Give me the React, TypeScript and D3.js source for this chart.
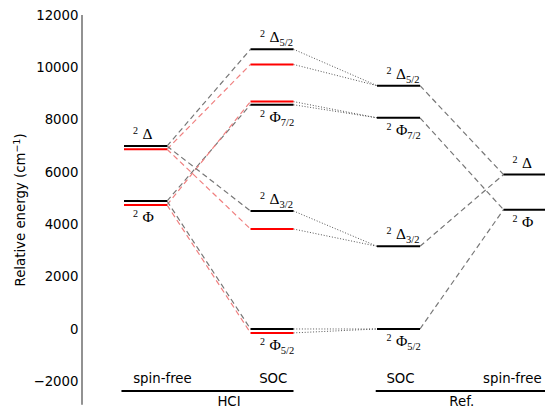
import React from "react";
import * as d3 from "d3";

// ---- data (cm^-1) ----
const sfSymbols = ["Δ", "Φ"];
const hciSfBlack = [6990, 4890];
const hciSfRed = [6870, 4740];

const socSymbols = ["Δ", "Φ", "Δ", "Φ"];
const socSubs = ["5/2", "7/2", "3/2", "5/2"];
const socParent = [0, 1, 0, 1];
const hciSocBlack = [10690, 8570, 4510, 0];
const hciSocRed = [10110, 8690, 3820, -150];
const refSoc = [9300, 8070, 3160, 0];
const refSf = [5900, 4560];

const yTicks = [-2000, 0, 2000, 4000, 6000, 8000, 10000, 12000];
const columnLabels = ["spin-free", "SOC", "SOC", "spin-free"];
const columnLabelPos = [0.134, 1.01, 2.016, 2.9];
const groupLabels = ["HCI", "Ref."];
const groupLabelPos = [0.66, 2.5];
const groupSpans = [[-0.19, 1.17], [1.82, 3.18]];

const W = 545;
const H = 408;

function Label({ x, y, sym, sub }: { x: number; y: number; sym: string; sub?: string }) {
  return (
    <text x={x} y={y} fontFamily="'Liberation Serif', serif" fontSize={15.5} fill="#000">
      <tspan fontSize={10} dy={-5}>2</tspan>
      <tspan dx={4.5} dy={5}>{sym}</tspan>
      {sub ? <tspan fontSize={10.5} dy={4}>{sub}</tspan> : null}
    </text>
  );
}

export default function App() {
  const x = d3.scaleLinear().domain([0, 3]).range([145.5, 525]);
  const y = d3.scaleLinear().domain([-2000, 12000]).range([381.3, 15]);
  const hw = 21.5;
  const yBottom = y(-2900);

  const gray = "#777";
  const pink = "#f08080";
  const dotted = "#555";

  const conns: React.ReactNode[] = [];
  socSymbols.forEach((_, i) => {
    const p = socParent[i];
    conns.push(
      <line key={`gd${i}`} x1={x(0) + hw} y1={y(hciSfBlack[p])} x2={x(1) - hw} y2={y(hciSocBlack[i])}
        stroke={gray} strokeWidth={1.2} strokeDasharray="5.5,3.5" />,
      <line key={`rd${i}`} x1={x(0) + hw} y1={y(hciSfRed[p])} x2={x(1) - hw} y2={y(hciSocRed[i])}
        stroke={pink} strokeWidth={1.2} strokeDasharray="5.5,3.5" />,
      <line key={`db${i}`} x1={x(1) + hw} y1={y(hciSocBlack[i])} x2={x(2) - hw} y2={y(refSoc[i])}
        stroke={dotted} strokeWidth={1} strokeDasharray="1,1.8" />,
      <line key={`dr${i}`} x1={x(1) + hw} y1={y(hciSocRed[i])} x2={x(2) - hw} y2={y(refSoc[i])}
        stroke={dotted} strokeWidth={1} strokeDasharray="1,1.8" />,
      <line key={`rg${i}`} x1={x(2) + hw} y1={y(refSoc[i])} x2={x(3) - hw} y2={y(refSf[p])}
        stroke={gray} strokeWidth={1.2} strokeDasharray="5.5,3.5" />
    );
  });

  const level = (key: string, c: number, v: number, color: string) => (
    <line key={key} x1={x(c) - hw} x2={x(c) + hw} y1={y(v)} y2={y(v)} stroke={color} strokeWidth={2} />
  );

  const labelY = (sym: string, vals: number[]) => {
    const ys = vals.map((v) => y(v));
    return sym === "Δ" ? Math.min(...ys) - 7 : Math.max(...ys) + 17;
  };

  return (
    <svg width={W} height={H} style={{ position: "absolute", left: 0, top: 0 }}>
      <rect width={W} height={H} fill="#fff" />
      {/* y axis */}
      <line x1={82} x2={82} y1={y(12000)} y2={yBottom} stroke="#6e6e6e" strokeWidth={1.5} />
      {yTicks.map((t) => (
        <text key={t} x={78.5} y={y(t)} dy="0.35em" textAnchor="end"
          fontFamily="'DejaVu Sans', sans-serif" fontSize={13.3} fill="#000">
          {t < 0 ? "\u2212" + Math.abs(t) : String(t)}
        </text>
      ))}
      <text transform={`translate(25,${(y(12000) + yBottom) / 2}) rotate(-90)`} textAnchor="middle"
        fontFamily="'DejaVu Sans', sans-serif" fontSize={13.3} fill="#000">
        Relative energy (cm<tspan fontSize={9.5} dy={-5}>{"\u22121"}</tspan><tspan dy={5}>)</tspan>
      </text>

      {conns}

      {/* levels */}
      {sfSymbols.map((s, i) => level(`hsr${i}`, 0, hciSfRed[i], "#ff0000"))}
      {sfSymbols.map((s, i) => level(`hsb${i}`, 0, hciSfBlack[i], "#000"))}
      {socSymbols.map((s, i) => level(`hcr${i}`, 1, hciSocRed[i], "#ff0000"))}
      {socSymbols.map((s, i) => level(`hcb${i}`, 1, hciSocBlack[i], "#000"))}
      {socSymbols.map((s, i) => level(`rc${i}`, 2, refSoc[i], "#000"))}
      {sfSymbols.map((s, i) => level(`rs${i}`, 3, refSf[i], "#000"))}

      {/* labels */}
      {sfSymbols.map((s, i) => (
        <Label key={`lhs${i}`} x={x(0) - 12.5} y={labelY(s, [hciSfBlack[i], hciSfRed[i]])} sym={s} />
      ))}
      {socSymbols.map((s, i) => (
        <Label key={`lhc${i}`} x={x(1) - 12} y={labelY(s, [hciSocBlack[i], hciSocRed[i]])} sym={s} sub={socSubs[i]} />
      ))}
      {socSymbols.map((s, i) => (
        <Label key={`lrc${i}`} x={x(2) - 12} y={labelY(s, [refSoc[i]])} sym={s} sub={socSubs[i]} />
      ))}
      {sfSymbols.map((s, i) => (
        <Label key={`lrs${i}`} x={x(3) - 12.5} y={labelY(s, [refSf[i]])} sym={s} />
      ))}

      {/* bottom column / group labels */}
      {columnLabels.map((c, i) => (
        <text key={`cl${i}`} x={x(columnLabelPos[i])} y={383} textAnchor="middle"
          fontFamily="'DejaVu Sans', sans-serif" fontSize={13.3} fill="#000">{c}</text>
      ))}
      {groupSpans.map((s, i) => (
        <line key={`gs${i}`} x1={x(s[0])} x2={x(s[1])} y1={391} y2={391} stroke="#000" strokeWidth={2} />
      ))}
      {groupLabels.map((g, i) => (
        <text key={`gl${i}`} x={x(groupLabelPos[i])} y={405.5} textAnchor="middle"
          fontFamily="'DejaVu Sans', sans-serif" fontSize={13.3} fill="#000">{g}</text>
      ))}
    </svg>
  );
}
